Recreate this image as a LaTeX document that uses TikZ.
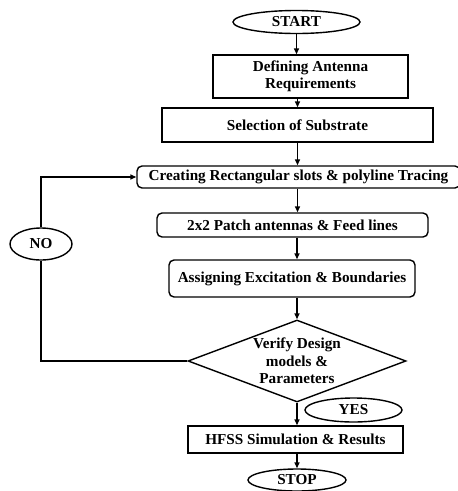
\documentclass[tikz,border=0pt]{standalone}
\usepackage{fontspec}
\setmainfont{Liberation Serif}
\usetikzlibrary{shapes.geometric,arrows.meta}
\begin{document}
\begin{tikzpicture}[x=1pt,y=-1pt,
  every node/.style={font=\bfseries\fontsize{15.2}{17.5}\selectfont, inner sep=0pt, line width=1.4pt},
  sqbox/.style={draw, rectangle, align=center},
  rbox/.style={draw, rectangle, rounded corners=5pt, align=center},
  oval/.style={draw, ellipse},
  conn/.style={line width=1.4pt},
  arr/.style={conn, -{Triangle[length=6pt,width=5pt]}}]
\useasboundingbox (0,0) rectangle (458,491);
\node[oval, minimum width=127pt, minimum height=23pt] (start) at (296.5,22) {START};
\node[sqbox, minimum width=195pt, minimum height=43pt] (def) at (310.5,76.5) {Defining Antenna\\Requirements};
\node[sqbox, minimum width=271pt, minimum height=34pt] (sel) at (297.5,125) {Selection of Substrate};
\node[rbox, minimum width=323pt, minimum height=22pt] (cre) at (298.5,177) {Creating Rectangular slots \& polyline Tracing};
\node[rbox, minimum width=271pt, minimum height=24pt] (patch) at (292.5,225) {2x2 Patch antennas \& Feed lines};
\node[rbox, minimum width=246pt, minimum height=37pt] (asg) at (292,278.5) {Assigning Excitation \& Boundaries};
\node[diamond, draw, minimum width=218pt, minimum height=82pt] (dec) at (297,361) {};
\node[align=center] (dectext) at (dec.center) {Verify Design\\models \&\\Parameters};
\node[oval, minimum width=97pt, minimum height=24pt] (yes) at (353.5,410) {YES};
\node[sqbox, minimum width=215pt, minimum height=27pt] (hfss) at (295.5,439.5) {HFSS Simulation \& Results};
\node[oval, minimum width=98pt, minimum height=22pt] (stop) at (297,480) {STOP};
\node[oval, minimum width=62pt, minimum height=32pt] (no) at (41,244) {NO};
\draw[arr] (start.south) -- (start.south |- def.north);
\draw[arr] (sel.north |- def.south) -- (sel.north);
\draw[arr] (sel.south) -- (sel.south |- cre.north);
\draw[arr] (sel.south |- cre.south) -- (sel.south |- patch.north);
\draw[arr] (dec.north |- patch.south) -- (dec.north |- asg.north);
\draw[arr] (dec.north |- asg.south) -- (dec.north);
\draw[arr] (dec.south) -- (dec.south |- hfss.north);
\draw[arr] (stop.north |- hfss.south) -- (stop.north);
\draw[conn] (dec.west) -| (no.south);
\draw[arr] (no.north) |- (cre.west);
\end{tikzpicture}
\end{document}
